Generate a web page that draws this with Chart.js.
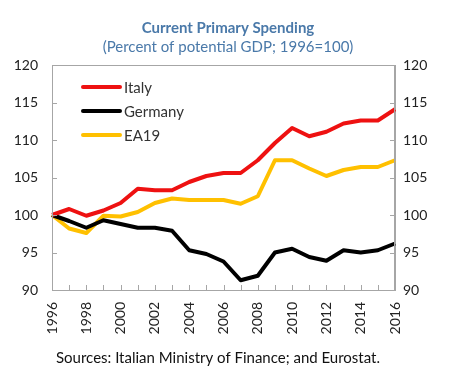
<!DOCTYPE html>
<html>
<head>
<meta charset="utf-8">
<script src="https://cdn.jsdelivr.net/npm/chart.js@4.4.0/dist/chart.umd.min.js"></script>
<style>
  html, body { margin: 0; padding: 0; background: #fff; }
  #wrap { width: 458px; height: 371px; }
</style>
</head>
<body>
<div id="wrap"><canvas id="grafica"></canvas></div>
<script>
const years = ['1996','1997','1998','1999','2000','2001','2002','2003','2004','2005','2006',
               '2007','2008','2009','2010','2011','2012','2013','2014','2015','2016'];
const italy   = [100, 100.8, 99.9, 100.6, 101.6, 103.5, 103.3, 103.3, 104.4, 105.2, 105.6,
                 105.6, 107.3, 109.6, 111.6, 110.5, 111.1, 112.2, 112.6, 112.6, 114.1];
const germany = [100, 99.2, 98.3, 99.3, 98.8, 98.3, 98.3, 97.9, 95.3, 94.8, 93.8,
                 91.3, 91.9, 95.0, 95.5, 94.4, 93.9, 95.3, 95.0, 95.3, 96.2];
const ea19    = [100, 98.2, 97.6, 99.9, 99.8, 100.4, 101.6, 102.2, 102.0, 102.0, 102.0,
                 101.5, 102.5, 107.3, 107.3, 106.2, 105.2, 106.0, 106.4, 106.4, 107.3];
const yMin = 90, yMax = 120, yStep = 5;

const fuente = 'Lato, "Open Sans", sans-serif';
const azul = '#4a79a9';

// textos, leyenda y marcas de eje hacia dentro
const extras = {
    id: 'extras',
    afterDraw(chart) {
        const ctx = chart.ctx;
        const area = chart.chartArea;
        ctx.save();
        ctx.textAlign = 'center';
        ctx.textBaseline = 'middle';
        ctx.fillStyle = azul;
        ctx.font = 'bold 15px ' + fuente;
        ctx.fillText('Current Primary Spending', 228, 28);
        ctx.font = '15px ' + fuente;
        ctx.fillText('(Percent of potential GDP; 1996=100)', 228, 47);
        ctx.fillStyle = '#111';
        ctx.fillText('Sources: Italian Ministry of Finance; and Eurostat.', 218, 358);

        // marcas
        ctx.strokeStyle = '#a6a6a6';
        ctx.lineWidth = 1;
        const x = chart.scales.x, y = chart.scales.y;
        ctx.beginPath();
        years.forEach((_, i) => {
            const px = Math.round(x.getPixelForValue(i)) + 0.5;
            ctx.moveTo(px, area.bottom);
            ctx.lineTo(px, area.bottom - 5);
        });
        for (let v = yMin + yStep; v < yMax; v += yStep) {
            const py = Math.round(y.getPixelForValue(v)) + 0.5;
            ctx.moveTo(area.left, py);
            ctx.lineTo(area.left + 5, py);
            ctx.moveTo(area.right, py);
            ctx.lineTo(area.right - 5, py);
        }
        ctx.stroke();

        // leyenda
        ctx.textAlign = 'left';
        ctx.font = '15px ' + fuente;
        chart.data.datasets.forEach((ds, i) => {
            const ly = 87 + i * 24;
            ctx.strokeStyle = ds.borderColor;
            ctx.lineWidth = 4;
            ctx.lineCap = 'round';
            ctx.beginPath();
            ctx.moveTo(83, ly);
            ctx.lineTo(120, ly);
            ctx.stroke();
            ctx.fillStyle = '#333';
            ctx.fillText(ds.label, 124, ly + 1);
        });
        ctx.restore();
    }
};

const ejeY = (pos) => ({
    type: 'linear',
    position: pos,
    min: yMin, max: yMax,
    ticks: { stepSize: yStep, color: '#222', font: { family: fuente, size: 14 },
             padding: pos === 'left' ? 14 : 8 },
    grid: { display: false, drawTicks: false },
    border: { display: true, color: '#a6a6a6' },
    afterFit(scale) { scale.width = pos === 'left' ? 52 : 63; }
});

new Chart(document.getElementById('grafica').getContext('2d'), {
    type: 'line',
    data: {
        labels: years,
        datasets: [
            { label: 'Italy', data: italy, borderColor: '#ee1111', yAxisID: 'y' },
            { label: 'Germany', data: germany, borderColor: '#000000', yAxisID: 'y' },
            { label: 'EA19', data: ea19, borderColor: '#ffc000', yAxisID: 'y' }
        ]
    },
    options: {
        responsive: true,
        maintainAspectRatio: false,
        animation: false,
        layout: { padding: { top: 65, left: 0, right: 0, bottom: 0 } },
        elements: {
            line: { borderWidth: 4, tension: 0, borderJoinStyle: 'round' },
            point: { radius: 0 }
        },
        plugins: { legend: { display: false }, tooltip: { enabled: false } },
        scales: {
            x: {
                offset: false,
                grid: { display: false, drawTicks: false },
                border: { display: true, color: '#a6a6a6' },
                ticks: {
                    autoSkip: false, minRotation: 90, maxRotation: 90, padding: 12,
                    color: '#222', font: { family: fuente, size: 14 },
                    callback: (v, i) => (i % 2 === 0 ? years[i] : '')
                },
                afterFit(scale) { scale.height = 81; }
            },
            y: ejeY('left'),
            y2: ejeY('right')
        }
    },
    plugins: [extras, {
        id: 'borde',
        afterDatasetsDraw(chart) {
            const a = chart.chartArea, ctx = chart.ctx;
            ctx.save();
            ctx.strokeStyle = '#a6a6a6';
            ctx.lineWidth = 1;
            ctx.strokeRect(a.left + 0.5, a.top + 0.5, a.right - a.left - 1, a.bottom - a.top);
            ctx.restore();
        }
    }]
});
</script>
</body>
</html>
